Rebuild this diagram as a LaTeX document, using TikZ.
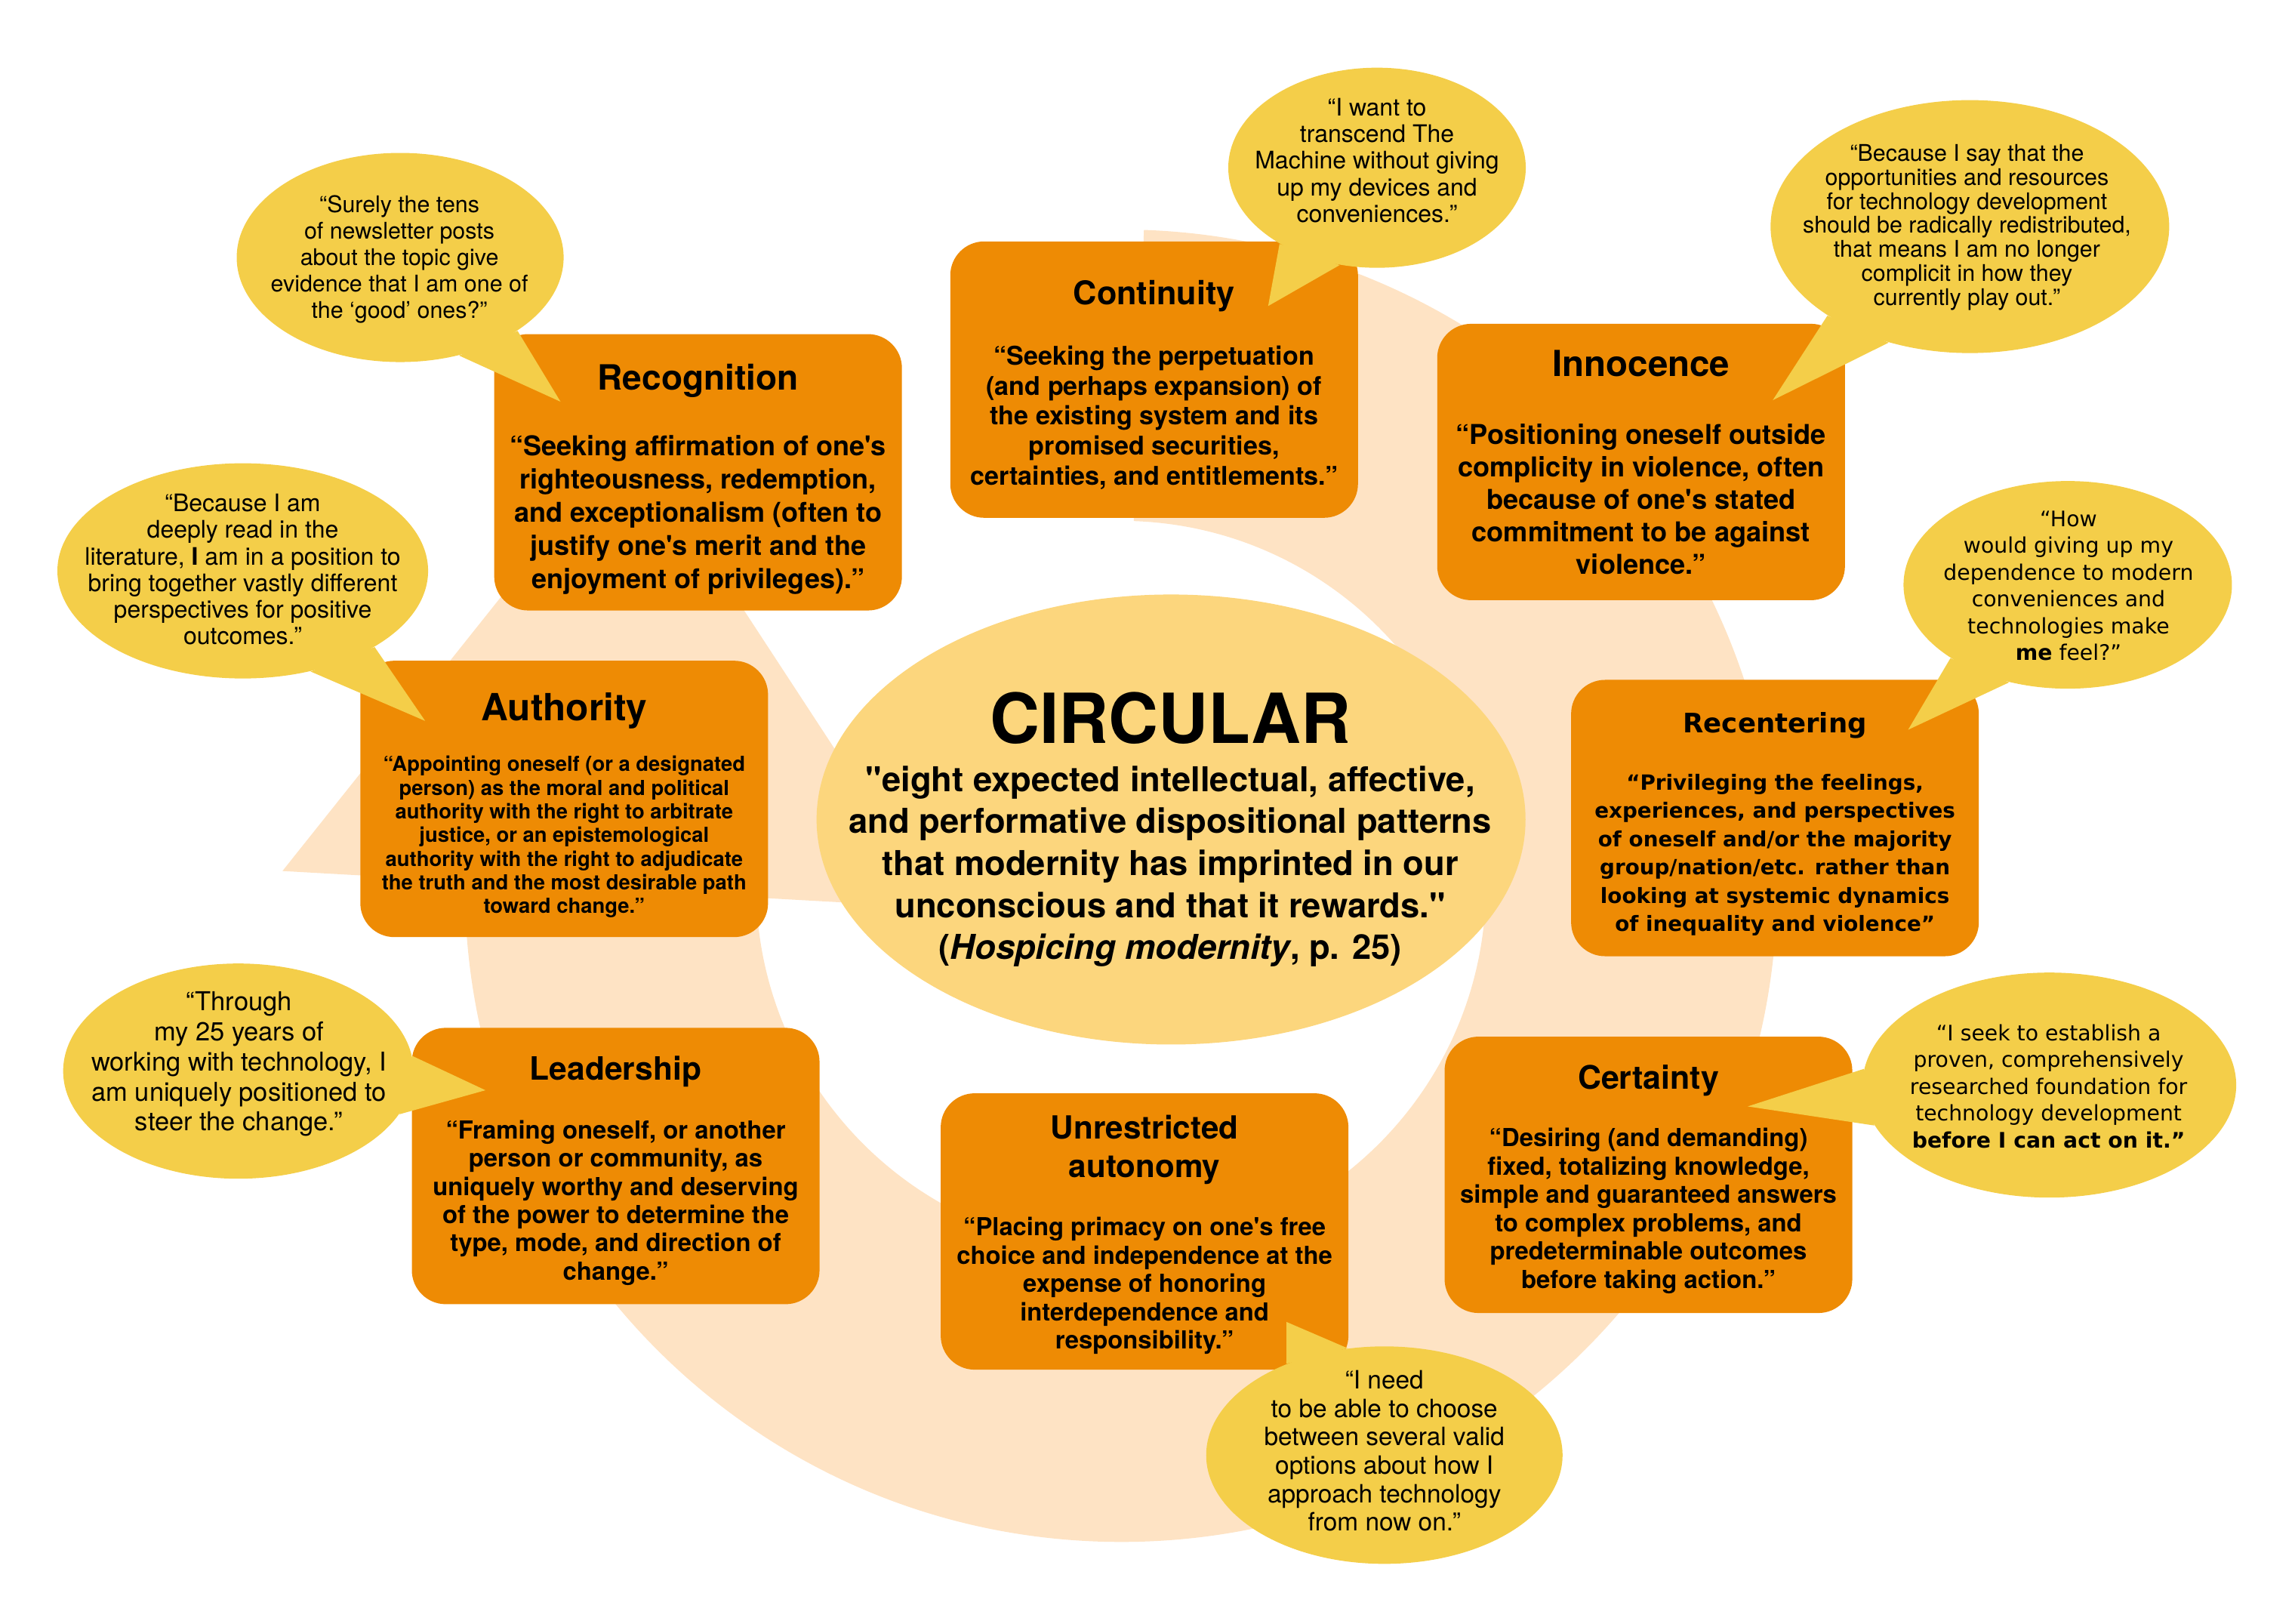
\documentclass[tikz,border=0pt]{standalone}
\usepackage{fontspec}
\setmainfont{TeX Gyre Heros}[Ligatures=TeXOff]
\newfontfamily\vera{DejaVu Sans}
\usepackage{tikz}
\usetikzlibrary{shapes.geometric,calc}

\definecolor{boxorange}{RGB}{238,139,4}
\definecolor{bubbleyellow}{RGB}{244,206,73}
\definecolor{coreyellow}{RGB}{252,214,125}
\definecolor{ringpeach}{RGB}{254,227,196}

\newcommand{\fs}[2]{\fontsize{#1}{#2}\selectfont}

\begin{document}
\begin{tikzpicture}[x=0.019487cm, y=-0.019487cm,
    box/.style={fill=boxorange, rounded corners=0.45cm, minimum width=5.40cm, minimum height=3.66cm, inner sep=0pt},
    bubble/.style={ellipse, fill=bubbleyellow, inner sep=0pt},
    tail/.style={fill=bubbleyellow},
    boxtitle/.style={anchor=base, align=center},
    boxbody/.style={anchor=base, align=center},
    talktext/.style={anchor=base, align=center}]
	\useasboundingbox (0,0) rectangle (1560,1103.3);

	% Ring
	\coordinate (hub) at (762,602);
	\fill[ringpeach] ($(hub)+(-88:446)$) arc[start angle=-88, end angle=182, radius=446]
		-- ($(hub)+(182:248)$) arc[start angle=182, end angle=-88, radius=248] -- cycle;

	% Pfeilspitze
	\coordinate (headL) at (192,592);
	\coordinate (headT) at (428,296);
	\coordinate (headR) at (638,617);
	\fill[ringpeach] (headL) -- (headT) -- (headR) -- cycle;

	% Mitte
	\node[ellipse, fill=coreyellow, minimum width=9.39cm, minimum height=5.96cm, inner sep=0pt] (core) at (796,557) {};

	% Kaesten
	\node[box] (recog) at (474.5,321) {};
	\node[box] (conti) at (784.5,258) {};
	\node[box] (innoc) at (1115.5,314) {};
	\node[box] (autho) at (383.5,543) {};
	\node[box] (recen) at (1206.5,556) {};
	\node[box] (leade) at (418.5,792.5) {};
	\node[box] (unres) at (778,837) {};
	\node[box] (certa) at (1120.5,798.5) {};

	% Sprechblasen
	\node[bubble, minimum width=4.33cm, minimum height=2.77cm] (surely) at (272,175) {};
	\node[bubble, minimum width=4.91cm, minimum height=2.85cm] (deeply) at (165,388) {};
	\node[bubble, minimum width=3.94cm, minimum height=2.65cm] (transc) at (936,114) {};
	\node[bubble, minimum width=5.28cm, minimum height=3.35cm] (redist) at (1339,154) {};
	\node[bubble, minimum width=4.35cm, minimum height=2.75cm] (feel) at (1405.5,397.5) {};
	\node[bubble, minimum width=4.95cm, minimum height=2.98cm] (seek) at (1393,737.5) {};
	\node[bubble, minimum width=4.64cm, minimum height=2.85cm] (through) at (162,728) {};
	\node[bubble, minimum width=4.72cm, minimum height=2.88cm] (need) at (941,989) {};

	% Spitzen
	\coordinate (surelyTip) at (381,273);
	\coordinate (deeplyTip) at (289,490);
	\coordinate (transcTip) at (862,208);
	\coordinate (redistTip) at (1205,272);
	\coordinate (feelTip) at (1297,496);
	\coordinate (seekTip) at (1188,752);
	\coordinate (throughTip) at (330,741);
	\coordinate (needTip) at (874.5,898.5);
	\fill[tail] (surely.-32) -- (surelyTip) -- (surely.-59) -- cycle;
	\fill[tail] (deeply.-30) -- (deeplyTip) -- (deeply.-56) -- cycle;
	\fill[tail] (transc.-142) -- (transcTip) -- (transc.-111) -- cycle;
	\fill[tail] (redist.-148) -- (redistTip) -- (redist.-125) -- cycle;
	\fill[tail] (feel.-148) -- (feelTip) -- (feel.-121) -- cycle;
	\fill[tail] (seek.175) -- (seekTip) -- (seek.-167) -- cycle;
	\fill[tail] (through.5) -- (throughTip) -- (through.-15) -- cycle;
	\fill[tail] (need.137) -- (needTip) -- (need.109) -- cycle;

	% Texte Mitte (base = letzte Zeile)
	\node[anchor=base, font=\fs{26}{30}\bfseries] (coreT) at (795.5,505) {CIRCULAR};
	\node[boxbody, font=\fs{12.9}{15.8}\bfseries] (coreB) at (795.5,652) {"eight expected intellectual, affective,\\and performative dispositional patterns\\that modernity has imprinted in our\\unconscious and that it rewards."\\(\textit{Hospicing modernity}, p. 25)};

	% Texte Kaesten
	\node[boxtitle, font=\fs{13.1}{15}\bfseries] (recogT) at (474.5,265) {Recognition};
	\node[boxbody, font=\fs{10.25}{12.53}\bfseries] (recogB) at (474.5,400) {“Seeking affirmation of one's\\righteousness, redemption,\\and exceptionalism (often to\\justify one's merit and the\\enjoyment of privileges).”};
	\node[boxtitle, font=\fs{12.3}{14}\bfseries] (contiT) at (784.5,207) {Continuity};
	\node[boxbody, font=\fs{9.7}{11.3}\bfseries] (contiB) at (784.5,329.6) {“Seeking the perpetuation\\(and perhaps expansion) of\\the existing system and its\\promised securities,\\certainties, and entitlements.”};
	\node[boxtitle, font=\fs{13.5}{15}\bfseries] (innocT) at (1115.5,256) {Innocence};
	\node[boxbody, font=\fs{10.3}{12.2}\bfseries] (innocB) at (1115.5,390) {“Positioning oneself outside\\complicity in violence, often\\because of one's stated\\commitment to be against\\violence.”};
	\node[boxtitle, font=\fs{14.1}{16}\bfseries] (authoT) at (383.5,489.6) {Authority};
	\node[boxbody, font=\fs{7.8}{8.9}\bfseries] (authoB) at (383.5,620.7) {“Appointing oneself (or a designated\\person) as the moral and political\\authority with the right to arbitrate\\justice, or an epistemological\\authority with the right to adjudicate\\the truth and the most desirable path\\toward change.”};
	\node[boxtitle, font=\vera\fs{10.1}{12}\bfseries] (recenT) at (1206.5,498) {Recentering};
	\node[boxbody, font=\vera\fs{7.9}{10.65}\bfseries] (recenB) at (1206.5,633) {“Privileging the feelings,\\experiences, and perspectives\\of oneself and/or the majority\\group/nation/etc. rather than\\looking at systemic dynamics\\of inequality and violence”};
	\node[boxtitle, font=\fs{12.1}{14}\bfseries] (leadeT) at (418.5,734) {Leadership};
	\node[boxbody, font=\fs{9.35}{10.65}\bfseries] (leadeB) at (418.5,870) {“Framing oneself, or another\\person or community, as\\uniquely worthy and deserving\\of the power to determine the\\type, mode, and direction of\\change.”};
	\node[boxtitle, font=\fs{12}{14.4}\bfseries] (unresT) at (778,800) {Unrestricted\\autonomy};
	\node[boxbody, font=\fs{9.33}{10.65}\bfseries] (unresB) at (778,916.8) {“Placing primacy on one's free\\choice and independence at the\\expense of honoring\\interdependence and\\responsibility.”};
	\node[boxtitle, font=\fs{12.2}{14}\bfseries] (certaT) at (1120.5,740) {Certainty};
	\node[boxbody, font=\fs{9.35}{10.65}\bfseries] (certaB) at (1120.5,875.5) {“Desiring (and demanding)\\fixed, totalizing knowledge,\\simple and guaranteed answers\\to complex problems, and\\predeterminable outcomes\\before taking action.”};

	% Texte Blasen
	\node[talktext, font=\fs{8.65}{10}] (surelyT) at (271.5,216.4) {“Surely the tens\\of newsletter posts\\about the topic give\\evidence that I am one of\\the ‘good’ ones?”};
	\node[talktext, font=\fs{9.1}{10}] (deeplyT) at (165,438) {“Because I am\\deeply read in the\\literature, \textbf{I} am in a position to\\bring together vastly different\\perspectives for positive\\outcomes.”};
	\node[talktext, font=\fs{9.1}{10}] (transcT) at (936,151) {“I want to\\transcend The\\Machine without giving\\up my devices and\\conveniences.”};
	\node[talktext, font=\fs{8.65}{9.1}] (redistT) at (1337,207.8) {“Because I say that the\\opportunities and resources\\for technology development\\should be radically redistributed,\\that means I am no longer\\complicit in how they\\currently play out.”};
	\node[talktext, font=\vera\fs{8.06}{10.1}] (feelT) at (1406,449) {“How\\would giving up my\\dependence to modern\\conveniences and\\technologies make\\\textbf{me} feel?”};
	\node[talktext, font=\vera\fs{8.05}{10.1}] (seekT) at (1392.5,780) {“I seek to establish a\\proven, comprehensively\\researched foundation for\\technology development\\\textbf{before I can act on it.”}};
	\node[talktext, font=\fs{9.8}{11.3}] (throughT) at (162.5,768.6) {“Through\\my 25 years of\\working with technology, I\\am uniquely positioned to\\steer the change.”};
	\node[talktext, font=\fs{9.5}{10.7}] (needT) at (941,1040.5) {“I need\\to be able to choose\\between several valid\\options about how I\\approach technology\\from now on.”};
\end{tikzpicture}
\end{document}
